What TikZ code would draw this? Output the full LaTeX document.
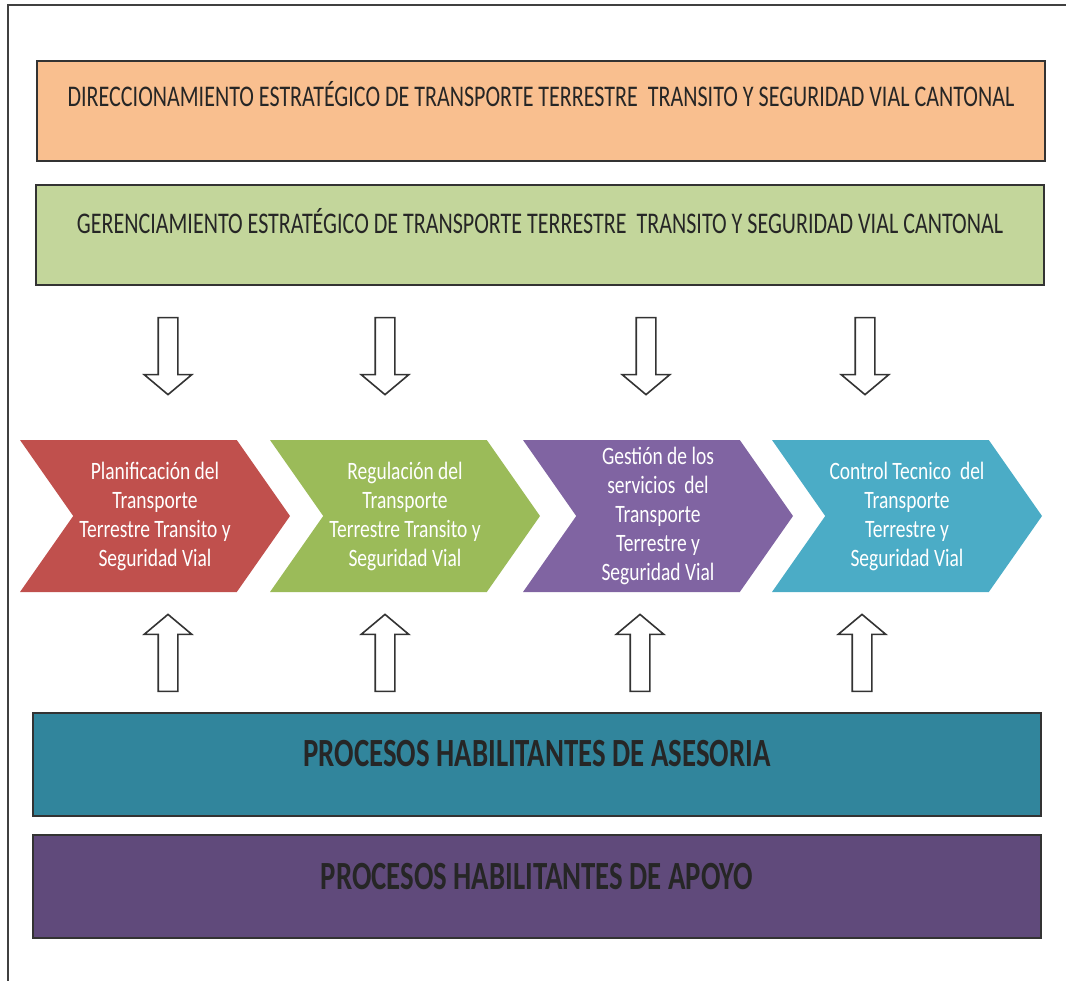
\documentclass[tikz,border=0pt]{standalone}
\usepackage{fontspec}
\setmainfont{Carlito}
\newfontfamily\bandfont[FakeStretch=0.735]{Carlito}
\newfontfamily\chevfont[FakeStretch=0.78]{Carlito}
\newfontfamily\basefont[FakeStretch=0.72]{Carlito}
\usetikzlibrary{shapes.symbols,shapes.arrows,positioning}

\definecolor{direcfill}{HTML}{F9BF8F}
\definecolor{gerenfill}{HTML}{C3D69B}
\definecolor{planred}{HTML}{C0504D}
\definecolor{reggreen}{HTML}{9BBB59}
\definecolor{gestpurple}{HTML}{8064A2}
\definecolor{ctrlblue}{HTML}{4BACC6}
\definecolor{asesteal}{HTML}{31859C}
\definecolor{apoyopurple}{HTML}{604A7B}

\begin{document}
\begin{tikzpicture}[x=0.5pt,y=-0.5pt,
  band/.style={draw=black!80,line width=1pt,minimum width=504pt,minimum height=50pt,inner sep=0pt},
  bandtext/.style={font=\bandfont\fontsize{15}{17}\selectfont,text=black!85},
  bigtext/.style={font=\basefont\bfseries\fontsize{20}{22}\selectfont,text=black!85},
  chev/.style={signal,signal to=east,signal from=west,signal pointer angle=110,
    minimum width=135pt,minimum height=76pt,inner sep=0pt,text=white,align=center,
    font=\chevfont\fontsize{12.5}{14.5}\selectfont},
  downarr/.style={single arrow,draw=black!80,line width=0.8pt,fill=white,shape border rotate=270,
    minimum height=38.5pt,inner sep=4.5pt,single arrow head extend=7pt,
    single arrow tip angle=100},
  uparr/.style={downarr,shape border rotate=90}]
\useasboundingbox (0,0) rectangle (1066,981);
% frame
\draw[black!75,line width=1pt] (1066,5) -- (8,5) -- (8,981);

% strategic levels
\node[band,fill=direcfill] (direc) at (541,111) {};
\node[bandtext] (direclab) at ([yshift=-17pt]direc.north)
  {DIRECCIONAMIENTO ESTRATÉGICO DE TRANSPORTE TERRESTRE \ TRANSITO Y SEGURIDAD VIAL CANTONAL};
\node[band,fill=gerenfill] (geren) at (540,235) {};
\node[bandtext] (gerenlab) at ([yshift=-18.5pt]geren.north)
  {GERENCIAMIENTO ESTRATÉGICO DE TRANSPORTE TERRESTRE \ TRANSITO Y SEGURIDAD VIAL CANTONAL};

% value chain
\node[chev,fill=planred] (plan) at (155,516)
  {Planificación del\\Transporte\\Terrestre Transito y\\Seguridad Vial};
\node[chev,fill=reggreen] (regul) at (405,516)
  {Regulación del\\Transporte\\Terrestre Transito y\\Seguridad Vial};
\node[chev,fill=gestpurple] (gest) at (658,516)
  {Gestión de los\\servicios \ del\\Transporte\\Terrestre y\\Seguridad Vial};
\node[chev,fill=ctrlblue] (ctrl) at (907,516)
  {Control Tecnico \ del\\Transporte\\Terrestre y\\Seguridad Vial};

% arrows down / up
\node[downarr] (d1) at (168,352) {};
\node[downarr] (d2) at (385,352) {};
\node[downarr] (d3) at (646,352) {};
\node[downarr] (d4) at (865,352) {};
\node[uparr] (u1) at (168,657) {};
\node[uparr] (u2) at (385,657) {};
\node[uparr] (u3) at (640,657) {};
\node[uparr] (u4) at (862,657) {};

% enabling processes
\node[band,fill=asesteal,minimum height=51.5pt] (ases) at (537,764) {};
\node[bigtext] (aseslab) at ([yshift=-21pt]ases.north) {PROCESOS HABILITANTES DE ASESORIA};
\node[band,fill=apoyopurple,minimum height=51.5pt] (apoyo) at (537,886) {};
\node[bigtext] (apoyolab) at ([yshift=-21.5pt]apoyo.north) {PROCESOS HABILITANTES DE APOYO};
\end{tikzpicture}
\end{document}
